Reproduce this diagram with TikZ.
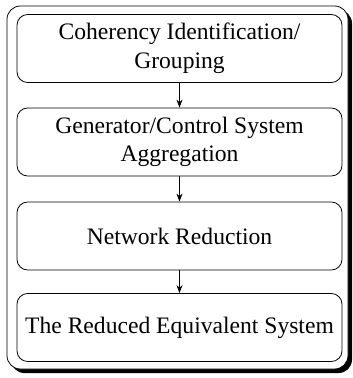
\documentclass[tikz,border=0pt]{standalone}
\usepackage{fontspec}
\setmainfont{Liberation Serif}
\usetikzlibrary{arrows.meta}
\begin{document}
\begin{tikzpicture}[x=0.75pt,y=-0.75pt,
  stage/.style={draw, line width=0.6pt, rounded corners=8pt,
    minimum width=243.75pt, minimum height=51pt, align=center,
    font=\fontsize{17.7}{21.5}\selectfont, inner sep=0pt},
  flow/.style={line width=0.6pt, -{Stealth[length=6pt,width=4.5pt]}}]
  \useasboundingbox (0,0) rectangle (353,378);
  % outer frame with drop shadow
  \fill[black, rounded corners=10pt] (11,10) rectangle (352,373);
  \draw[fill=white, line width=0.6pt, rounded corners=10pt] (7,6) rectangle (348,369);
  % process stages
  \node[stage] (s1) at (179.5,48.5) {Coherency Identification/\\Grouping};
  \node[stage] (s2) at (179.5,142) {Generator/Control System\\Aggregation};
  \node[stage] (s3) at (179.5,236) {Network Reduction};
  \node[stage] (s4) at (179.5,327.5) {The Reduced Equivalent System};
  % connectors
  \draw[flow] (s1) -- (s2);
  \draw[flow] (s2) -- (s3);
  \draw[flow] (s3) -- (s4);
\end{tikzpicture}
\end{document}
